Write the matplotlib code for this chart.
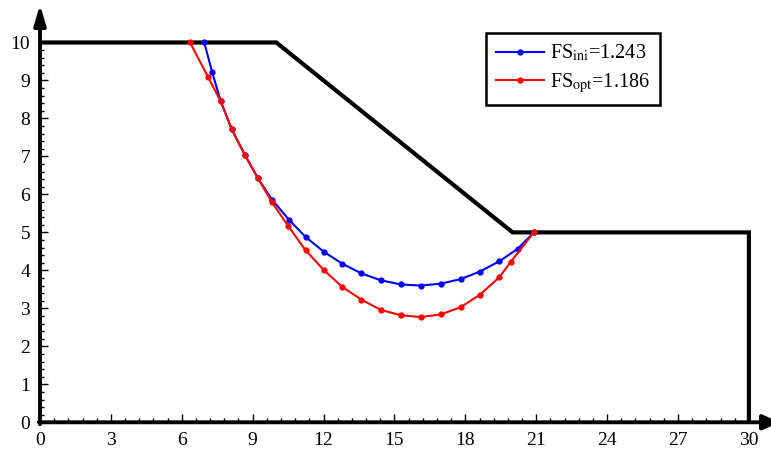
import numpy
import matplotlib
matplotlib.use("Agg")
import matplotlib.pyplot as plt
import matplotlib.ticker as ticker
from matplotlib.legend_handler import HandlerLine2D

plt.rcParams['font.family'] = 'serif'
plt.rcParams['font.serif'] = ['Liberation Serif', 'Times New Roman', 'DejaVu Serif']
plt.rcParams['mathtext.fontset'] = 'stix'

# Slope geometry
slope_x = [0, 10, 20, 30, 30]
slope_y = [10, 10, 5, 5, 0]

# Initial slip surface
ini_x = [6.95, 7.29, 7.65, 8.11, 8.66, 9.21, 9.82, 10.54, 11.24, 12.01, 12.78,
         13.60, 14.42, 15.26, 16.11, 16.96, 17.80, 18.62, 19.44, 20.22, 20.9]
ini_y = [10.0, 9.21, 8.45, 7.72, 7.05, 6.44, 5.86, 5.33, 4.88, 4.49, 4.18,
         3.92, 3.74, 3.63, 3.60, 3.65, 3.77, 3.97, 4.24, 4.57, 5.0]

# Optimised slip surface
opt_x = [6.35, 7.12, 7.65, 8.11, 8.66, 9.21, 9.81, 10.51, 11.24, 12.01, 12.78,
         13.60, 14.42, 15.26, 16.11, 16.96, 17.80, 18.62, 19.44, 19.93, 20.9]
opt_y = [10.0, 9.08, 8.45, 7.72, 7.05, 6.44, 5.80, 5.16, 4.53, 4.01, 3.57,
         3.23, 2.96, 2.82, 2.77, 2.84, 3.03, 3.36, 3.82, 4.23, 5.0]

fs_ini = 1.243
fs_opt = 1.186

W, H = 771, 459
fig = plt.figure(figsize=(W / 100, H / 100), dpi=100)
ax = fig.add_axes([40 / W, (H - 422.3) / H, 739.6 / W, 417.8 / H])
ax.set_xlim(0, 31.3)
ax.set_ylim(0, 11)

ax.plot(slope_x, slope_y, color="black", lw=3.0, solid_joinstyle="miter", zorder=3)
l1, = ax.plot(ini_x, ini_y, color="blue", lw=1.5, marker="o", ms=3.5,
              label=r"FS$_{\rm ini}$=%.3f" % fs_ini, zorder=4)
l2, = ax.plot(opt_x, opt_y, color="red", lw=1.5, marker="o", ms=3.5,
              label=r"FS$_{\rm opt}$=%.3f" % fs_opt, zorder=4)

# axes drawn as arrows
for s in ax.spines.values():
    s.set_visible(False)
ax.annotate("", xy=(0, 11.0), xytext=(0, -0.05),
            arrowprops=dict(arrowstyle="-|>,head_length=1.2,head_width=0.35",
                            lw=2.8, color="black", shrinkA=0, shrinkB=0),
            annotation_clip=False)
ax.annotate("", xy=(31.3, 0), xytext=(-0.05, 0),
            arrowprops=dict(arrowstyle="-|>,head_length=1.0,head_width=0.45",
                            lw=2.8, color="black", shrinkA=0, shrinkB=0),
            annotation_clip=False)

ax.set_xticks(numpy.arange(0, 31, 3))
ax.set_yticks(numpy.arange(0, 11, 1))
ax.xaxis.set_minor_locator(ticker.FixedLocator(numpy.arange(0, 30.01, 0.6)))
ax.yaxis.set_minor_locator(ticker.FixedLocator(numpy.arange(0, 10.01, 0.2)))
ax.tick_params(which="major", direction="in", length=6, width=1.0, labelsize=14, pad=7)
ax.tick_params(which="minor", direction="in", length=3, width=1.0)

hmap = {l1: HandlerLine2D(marker_pad=0.55), l2: HandlerLine2D(marker_pad=0.55)}
leg = ax.legend(loc="upper right", bbox_to_anchor=(0.838, 0.932), borderaxespad=0,
                fontsize=14.5, fancybox=False, edgecolor="black", framealpha=1,
                handlelength=2.4, borderpad=0.5, labelspacing=0.35, handletextpad=0.3,
                handler_map=hmap)
leg.get_frame().set_linewidth(1.8)

fig.savefig("out.png", dpi=100)
